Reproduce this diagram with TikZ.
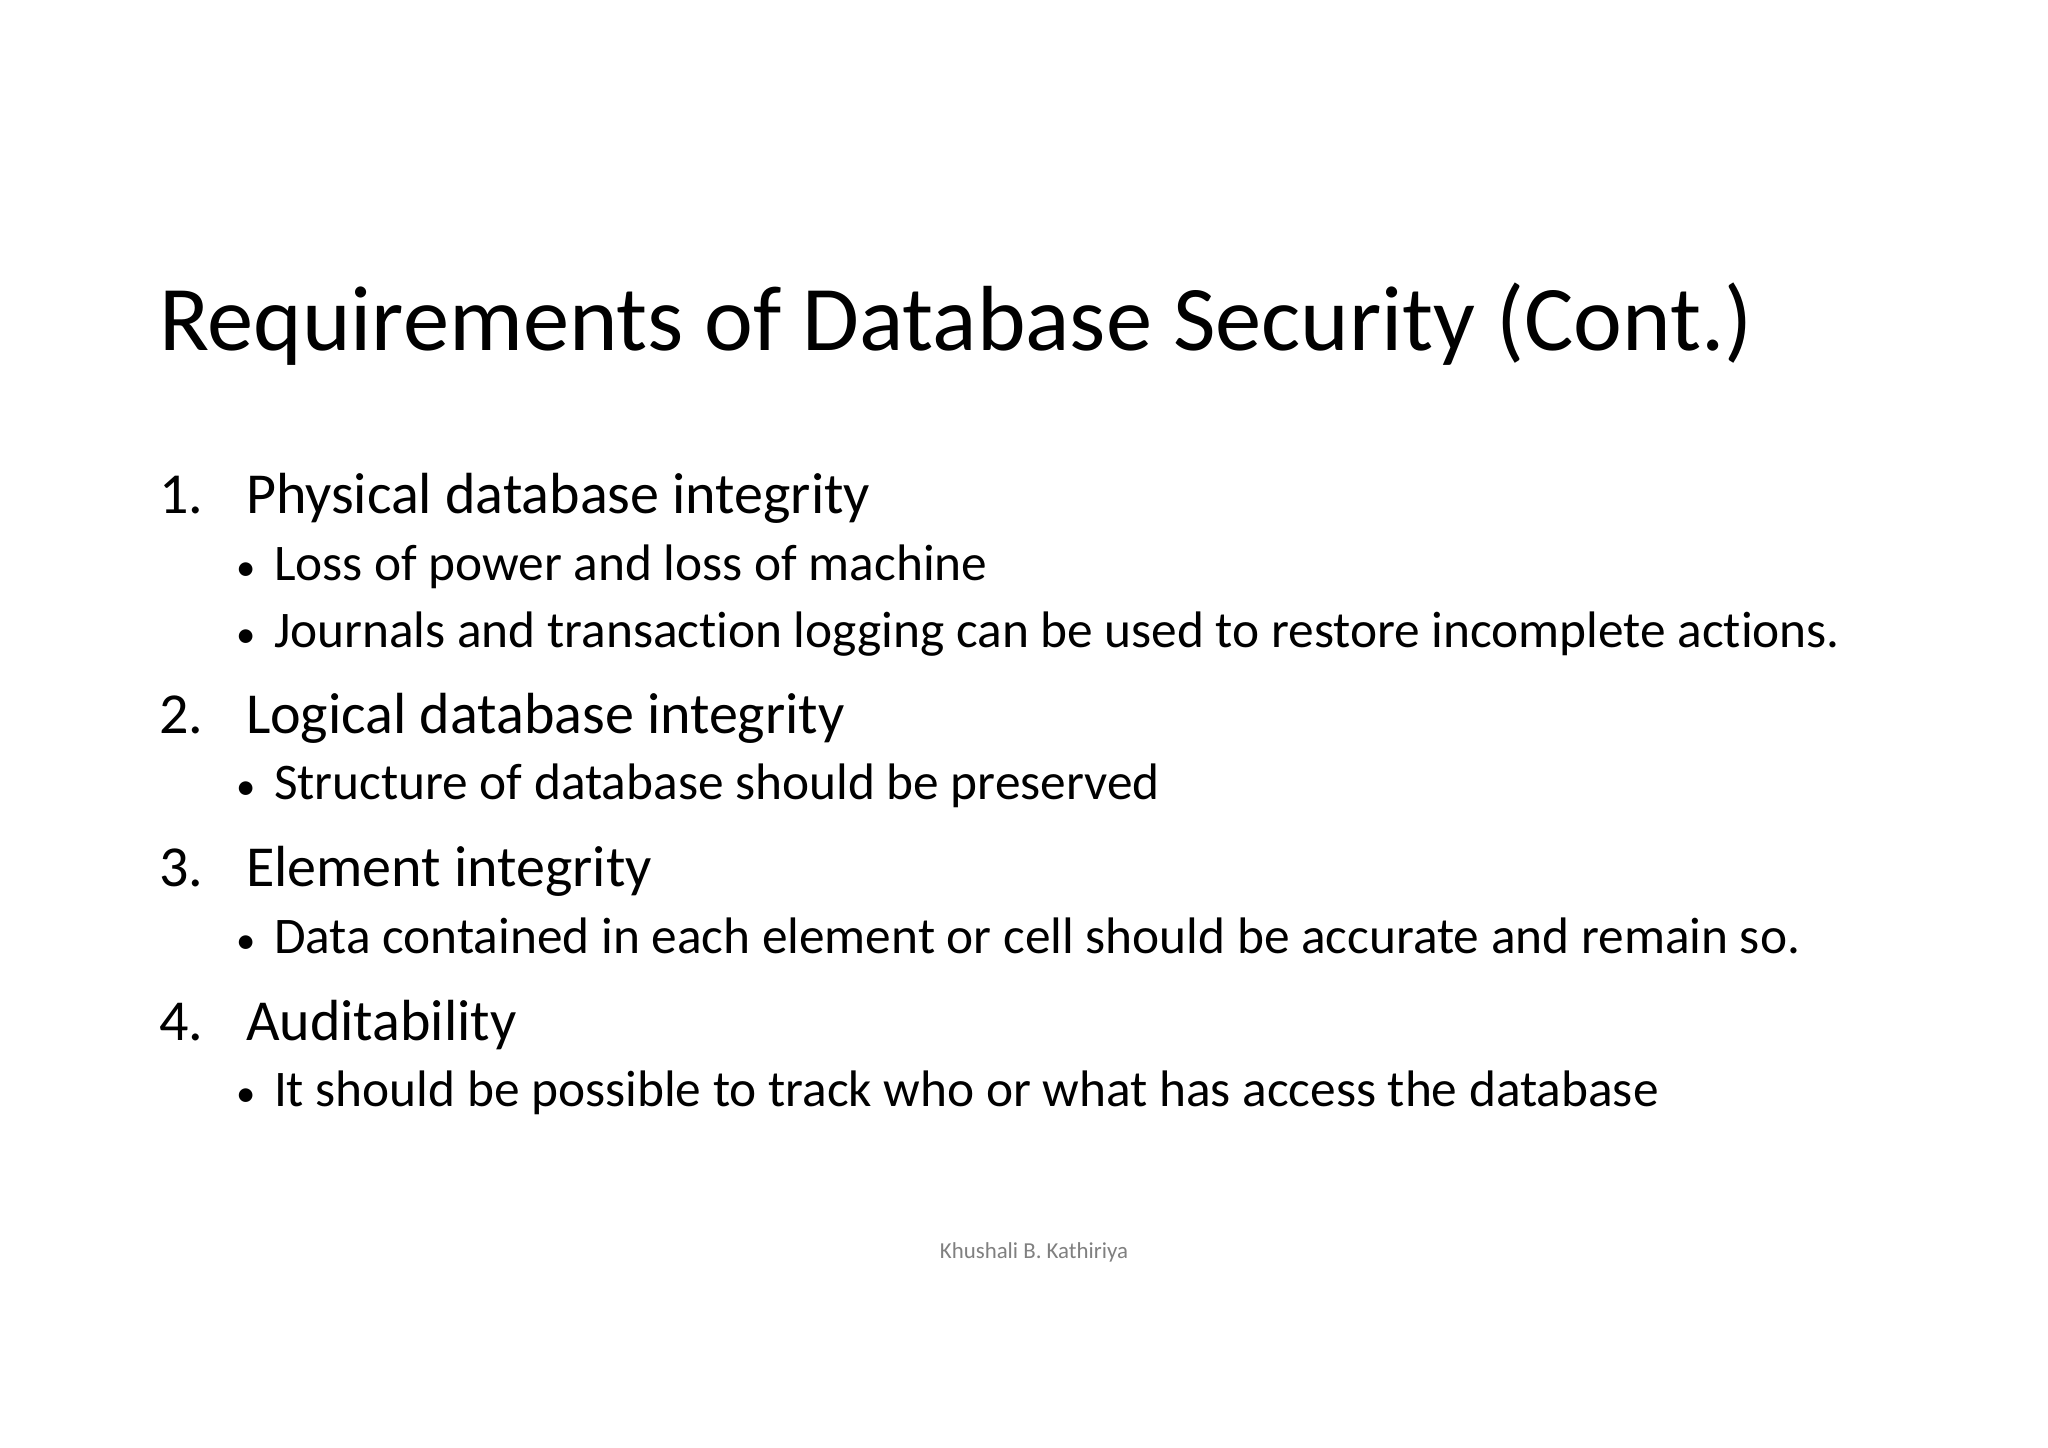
\documentclass[tikz,border=0pt]{standalone}
\usepackage{fontspec}
\setmainfont[Ligatures=NoCommon]{Carlito}
\begin{document}
\begin{tikzpicture}[x=0.01cm,y=-0.01cm,
  every node/.style={anchor=base west,inner sep=0pt,outer sep=0pt},
  ttl/.style={font=\fontsize{26.3}{30}\selectfont},
  lone/.style={font=\fontsize{16.5}{20}\selectfont},
  ltwo/.style={font=\fontsize{14.6}{18}\selectfont},
  bul/.style={font=\fontsize{11}{12}\selectfont,anchor=base west},
  foot/.style={font=\fontsize{6.5}{8}\selectfont,text=black!50,anchor=base}]
\useasboundingbox[fill=white] (0,0) rectangle (2048,1447);
\node[ttl] (title) at (159,350) {Requirements of Database Security (Cont.)};
\node[lone] (n1) at (159,513) {1.};
\node[lone] (t1) at (246,513) {Physical database integrity};
\node[bul] (b1) at (236,580) {\textbullet};
\node[ltwo] (s1) at (274,580) {Loss of power and loss of machine};
\node[bul] (b2) at (236,647) {\textbullet};
\node[ltwo] (s2) at (274,647) {Journals and transaction logging can be used to restore incomplete actions.};
\node[lone] (n2) at (159,733) {2.};
\node[lone] (t2) at (246,733) {Logical database integrity};
\node[bul] (b3) at (236,799) {\textbullet};
\node[ltwo] (s3) at (274,799) {Structure of database should be preserved};
\node[lone] (n3) at (159,886) {3.};
\node[lone] (t3) at (246,886) {Element integrity};
\node[bul] (b4) at (236,953) {\textbullet};
\node[ltwo] (s4) at (274,953) {Data contained in each element or cell should be accurate and remain so.};
\node[lone] (n4) at (159,1040) {4.};
\node[lone] (t4) at (246,1040) {Auditability};
\node[bul] (b5) at (236,1106) {\textbullet};
\node[ltwo] (s5) at (274,1106) {It should be possible to track who or what has access the database};
\node[foot] (ft) at (1034,1258) {Khushali B. Kathiriya};
\end{tikzpicture}
\end{document}
